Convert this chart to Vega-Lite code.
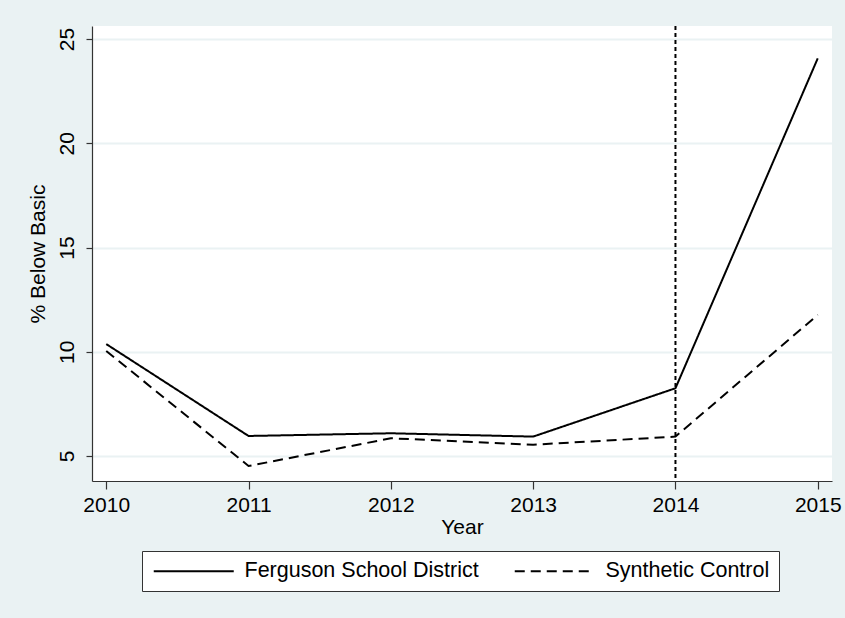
{
  "$schema": "https://vega.github.io/schema/vega-lite/v6.json",
  "width": 740,
  "height": 455,
  "autosize": {"type": "none"},
  "padding": {"left": 92, "top": 26, "right": 13, "bottom": 137},
  "background": "#EAF2F3",
  "config": {
    "font": "Liberation Sans",
    "view": {"stroke": null, "fill": "white"},
    "axis": {
      "labelFont": "Liberation Sans",
      "titleFont": "Liberation Sans",
      "labelFontSize": 21,
      "titleFontSize": 21,
      "labelColor": "#000000",
      "titleColor": "#000000",
      "titleFontWeight": "normal",
      "domainColor": "#333333",
      "tickColor": "#333333",
      "domainWidth": 1.2,
      "tickWidth": 1.2,
      "gridColor": "#EAF2F3",
      "gridWidth": 2,
      "gridOpacity": 1
    },
    "legend": {
      "labelFont": "Liberation Sans",
      "labelFontSize": 21.5,
      "labelColor": "#000000",
      "labelLimit": 400
    }
  },
  "datasets": {
    "main": [
      {"year": 2010, "series": "Ferguson School District", "value": 10.37},
      {"year": 2011, "series": "Ferguson School District", "value": 5.96},
      {"year": 2012, "series": "Ferguson School District", "value": 6.09},
      {"year": 2013, "series": "Ferguson School District", "value": 5.93},
      {"year": 2014, "series": "Ferguson School District", "value": 8.25},
      {"year": 2015, "series": "Ferguson School District", "value": 24.08},
      {"year": 2010, "series": "Synthetic Control", "value": 10.04},
      {"year": 2011, "series": "Synthetic Control", "value": 4.52},
      {"year": 2012, "series": "Synthetic Control", "value": 5.85},
      {"year": 2013, "series": "Synthetic Control", "value": 5.54},
      {"year": 2014, "series": "Synthetic Control", "value": 5.93},
      {"year": 2015, "series": "Synthetic Control", "value": 11.77}
    ],
    "event": [{"year": 2014}]
  },
  "layer": [
    {
      "data": {"name": "event"},
      "mark": {"type": "rule", "color": "#000000", "strokeWidth": 2, "strokeDash": [4, 3]},
      "encoding": {
        "x": {"field": "year", "type": "quantitative", "scale": {"domain": [2009.9, 2015.1], "nice": false, "zero": false}}
      }
    },
    {
      "data": {"name": "main"},
      "mark": {"type": "line", "color": "#000000", "strokeWidth": 2},
      "encoding": {
        "x": {
          "field": "year",
          "type": "quantitative",
          "scale": {"domain": [2009.9, 2015.1], "nice": false, "zero": false},
          "axis": {
            "title": "Year",
            "values": [2010, 2011, 2012, 2013, 2014, 2015],
            "format": "d",
            "grid": false,
            "tickSize": 8,
            "labelPadding": 5,
            "titlePadding": 1,
            "labelFlush": false,
            "labelOverlap": false
          }
        },
        "y": {
          "field": "value",
          "type": "quantitative",
          "scale": {"domain": [3.8, 25.63], "nice": false, "zero": false},
          "axis": {
            "title": "% Below Basic",
            "values": [5, 10, 15, 20, 25],
            "grid": true,
            "tickSize": 6,
            "labelAngle": -90,
            "labelPadding": 9,
            "titlePadding": 8,
            "labelFlush": false,
            "labelOverlap": false
          }
        },
        "strokeDash": {
          "field": "series",
          "type": "nominal",
          "scale": {"domain": ["Ferguson School District", "Synthetic Control"], "range": [[1, 0], [10, 6]]},
          "legend": {
            "title": null,
            "orient": "none",
            "legendX": 50,
            "legendY": 525,
            "direction": "horizontal",
            "symbolType": "M-5,0H5",
            "symbolSize": 256,
            "symbolOffset": 32,
            "symbolStrokeWidth": 2,
            "symbolStrokeColor": "#000000",
            "labelOffset": 40,
            "columnPadding": 31,
            "padding": 9,
            "strokeColor": "#333333",
            "fillColor": "#FFFFFF"
          }
        }
      }
    }
  ]
}
